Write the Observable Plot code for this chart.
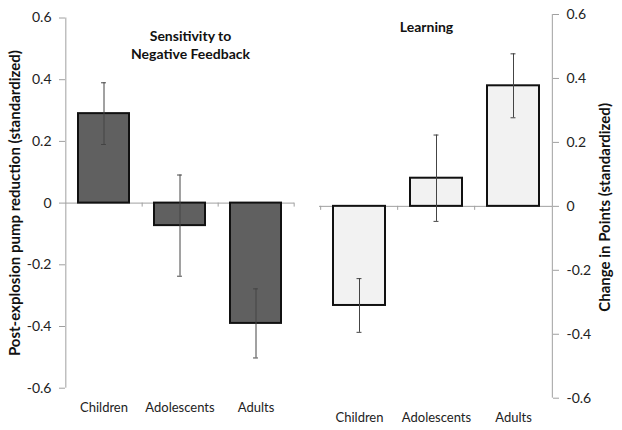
<!DOCTYPE html>
<html>
<head>
<meta charset="utf-8">
<script src="https://cdn.jsdelivr.net/npm/d3@7"></script>
<script src="https://cdn.jsdelivr.net/npm/@observablehq/plot@0.6"></script>
<style>
  body { margin: 0; background: #fff; }
  #chart { display: flex; width: 622px; height: 430px; }
  #chart svg { overflow: visible; }
</style>
</head>
<body>
<div id="chart"></div>
<script>
// ---- data ----
const categories = ["Children", "Adolescents", "Adults"];
const sensitivity = [0.29, -0.073, -0.39];
const sensitivityErr = [0.10, 0.164, 0.112];
const learning = [-0.31, 0.088, 0.377];
const learningErr = [0.084, 0.135, 0.10];
const yTicks = [-0.6, -0.4, -0.2, 0, 0.2, 0.4, 0.6];
const titleLeft = "Sensitivity to\nNegative Feedback";
const titleRight = "Learning";
const labelLeft = "Post-explosion pump reduction (standardized)";
const labelRight = "Change in Points (standardized)";

const tickFormat = d => d === 0 ? "0" : d.toFixed(1);
const pad = 0.33;
const capWidth = 5;

function panel({values, errs, fill, side, width, marginLeft, marginRight, marginTop, marginBottom, title, titleDx, titleDy, label, labelDx, labelDy}) {
  const rows = categories.map((c, i) => ({c, v: values[i], lo: values[i] - errs[i], hi: values[i] + errs[i]}));
  const step = (width - marginLeft - marginRight) / categories.length;
  const bw = step * (1 - pad);
  const edge = side === "left" ? -step / 2 : step / 2;
  const axisCat = side === "left" ? categories[0] : categories[categories.length - 1];
  return Plot.plot({
    width, height: 430,
    marginLeft, marginRight, marginTop, marginBottom,
    style: {fontFamily: "Lato, 'Open Sans', sans-serif", fontSize: "13px", color: "#222", background: "transparent", overflow: "visible"},
    x: {domain: categories, paddingInner: pad, paddingOuter: pad / 2, axis: null},
    y: {domain: [-0.6, 0.6], axis: null},
    marks: [
      Plot.ruleY([0], {stroke: "#a0a0a0", strokeWidth: 1}),
      Plot.ruleX(categories, {x: d => d, y1: 0, y2: 0, insetBottom: -4, dx: -edge, stroke: "#a0a0a0"}),
      Plot.ruleX([axisCat], {x: d => d, y1: -0.6, y2: 0.6, dx: edge, stroke: "#a0a0a0"}),
      Plot.axisY({anchor: side, ticks: yTicks, tickFormat, tickSize: 6, tickPadding: 8, label: null, stroke: "#a0a0a0", fill: "#222", fontSize: 14}),
      Plot.axisX({anchor: "bottom", tickSize: 0, tickPadding: 14.5, label: null, fill: "#222", fontSize: 13}),
      Plot.barY(rows, {x: "c", y: "v", fill, stroke: "#111", strokeWidth: 2}),
      Plot.ruleX(rows, {x: "c", y1: "lo", y2: "hi", stroke: "#444", strokeWidth: 1}),
      Plot.tickY(rows, {x: "c", y: "lo", stroke: "#444", insetLeft: (bw - capWidth) / 2, insetRight: (bw - capWidth) / 2}),
      Plot.tickY(rows, {x: "c", y: "hi", stroke: "#444", insetLeft: (bw - capWidth) / 2, insetRight: (bw - capWidth) / 2}),
      Plot.text([title], {text: d => d, frameAnchor: "top", dx: titleDx, dy: titleDy, fontWeight: "bold", fontSize: 14, lineHeight: 1.29, fill: "#111"}),
      Plot.text([label], {text: d => d, frameAnchor: side, textAnchor: "middle", dx: labelDx, dy: labelDy, rotate: -90, fontWeight: "bold", fontSize: 15, fill: "#111"})
    ]
  });
}

const left = panel({
  values: sensitivity, errs: sensitivityErr, fill: "#606060", side: "left",
  width: 310, marginLeft: 65, marginRight: 16, marginTop: 17.5, marginBottom: 42.3,
  title: titleLeft, titleDx: 10.5, titleDy: 10.5, label: labelLeft, labelDx: -50, labelDy: 0
});
const right = panel({
  values: learning, errs: learningErr, fill: "#f2f2f2", side: "right",
  width: 312, marginLeft: 9, marginRight: 70, marginTop: 14, marginBottom: 32.3,
  title: titleRight, titleDx: -9.5, titleDy: 5, label: labelRight, labelDx: 53, labelDy: 1
});
const chart = document.getElementById("chart");
chart.appendChild(left);
chart.appendChild(right);
</script>
</body>
</html>
